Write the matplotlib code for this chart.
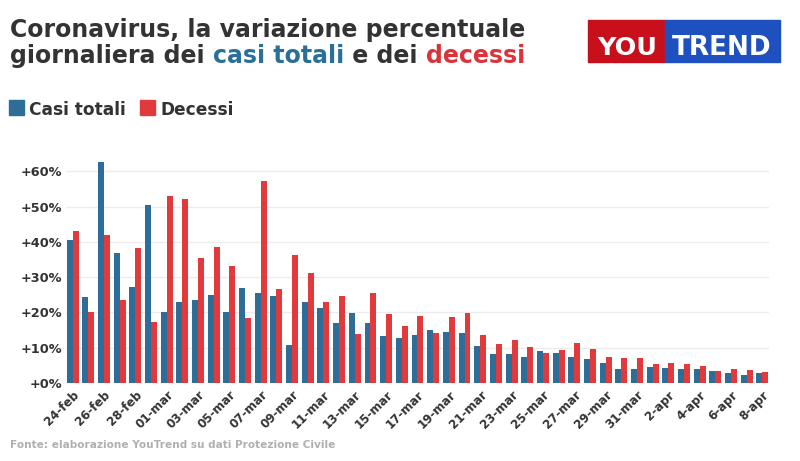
import matplotlib
matplotlib.use("Agg")
import matplotlib.pyplot as plt
from matplotlib import font_manager as fm
from matplotlib.font_manager import FontProperties
from matplotlib.patches import Rectangle
import numpy as np
import os

dates = ["24-feb", "25-feb", "26-feb", "27-feb", "28-feb", "29-feb",
         "01-mar", "02-mar", "03-mar", "04-mar", "05-mar", "06-mar", "07-mar", "08-mar",
         "09-mar", "10-mar", "11-mar", "12-mar", "13-mar", "14-mar", "15-mar", "16-mar",
         "17-mar", "18-mar", "19-mar", "20-mar", "21-mar", "22-mar", "23-mar", "24-mar",
         "25-mar", "26-mar", "27-mar", "28-mar", "29-mar", "30-mar", "31-mar",
         "1-apr", "2-apr", "3-apr", "4-apr", "5-apr", "6-apr", "7-apr", "8-apr"]

casi_totali = [40.7, 24.3, 62.8, 36.8, 27.2, 50.5, 20.2, 23.0, 23.6, 25.0, 20.2, 27.0, 25.5,
               24.6, 10.7, 22.9, 21.4, 17.0, 19.8, 17.1, 13.2, 12.7, 13.5, 14.9, 14.6, 14.1,
               10.4, 8.2, 8.3, 7.5, 9.2, 8.4, 7.5, 6.9, 5.6, 4.1, 4.1, 4.4, 4.3, 4.1, 4.1,
               3.4, 2.8, 2.2, 2.8]

decessi = [43.1, 20.0, 41.9, 23.6, 38.3, 17.3, 53.1, 52.1, 35.6, 38.5, 33.2, 18.3, 57.4,
           26.7, 36.4, 31.2, 23.0, 24.8, 13.9, 25.6, 19.5, 16.1, 19.1, 14.3, 18.6, 19.8,
           13.6, 11.1, 12.3, 10.1, 8.5, 9.5, 11.4, 9.7, 7.5, 7.0, 7.2, 5.5, 5.7, 5.5, 4.7,
           3.4, 4.0, 3.7, 3.2]

yticks = [0, 10, 20, 30, 40, 50, 60]
ytick_labels = ["+0%", "+10%", "+20%", "+30%", "+40%", "+50%", "+60%"]

BLUE = "#2f6d99"
RED = "#e03a3c"
DARK = "#333333"


def find_font(prefs):
    files = {}
    for f in fm.fontManager.ttflist:
        b = os.path.basename(f.fname)
        stem = os.path.splitext(b)[0].lower().replace("-", "").replace("_", "").replace(" ", "")
        files.setdefault(stem, f.fname)
    for p in prefs:
        if p in files:
            return files[p]
    return None


cond_bold = find_font(["notosanssemicondensedbold", "notosanscondensedbold",
                       "notosanssemicondensedsemibold", "notosanscondensedsemibold",
                       "liberationsansnarrowbold", "opensanscondensedbold"])


def FP(size):
    if cond_bold:
        return FontProperties(fname=cond_bold, size=size)
    return FontProperties(family=["DejaVu Sans"], weight="bold", size=size)


fig = plt.figure(figsize=(8, 4.61), dpi=100)
fig.canvas.draw()
R = fig.canvas.get_renderer()


def fit(t, target_px):
    bb = t.get_window_extent(R)
    s = t.get_fontsize()
    t.set_fontsize(s * target_px / bb.width)
    return t


ax = fig.add_axes([66/800, 1-383/461, (769-66)/800, 63*0.007647])

x = np.arange(len(dates))
w = 0.38
ax.bar(x - w/2, casi_totali, width=w, color=BLUE, zorder=3)
ax.bar(x + w/2, decessi, width=w, color=RED, zorder=3)
ax.set_xlim(-0.42, len(dates) - 1 + 0.42)
ax.set_ylim(0, 63)

ax.set_yticks(yticks)
ax.set_yticklabels(ytick_labels, color=DARK, fontproperties=FP(9.3))
ax.yaxis.grid(True, color="#ececec", linewidth=1, zorder=0)
ax.tick_params(axis="y", length=0, pad=3)

ax.set_xticks(x[::2])
ax.set_xticklabels(dates[::2], rotation=45, ha="right", rotation_mode="anchor",
                   color=DARK, fontproperties=FP(8.6))
ax.tick_params(axis="x", length=0, pad=4)
for s in ax.spines.values():
    s.set_visible(False)

# Title
l1 = fig.text(10/800, 1-37/461, "Coronavirus, la variazione percentuale",
              fontproperties=FP(20), color=DARK, ha="left", va="baseline")
fit(l1, 517)
TS = l1.get_fontsize()
t1 = fig.text(10/800, 1-63/461, "giornaliera dei ", fontproperties=FP(TS),
              color=DARK, ha="left", va="baseline")


def nxt(t, s, color):
    bb = t.get_window_extent(R)
    return fig.text(bb.x1/800, 1-63/461, s, fontproperties=FP(TS),
                    color=color, ha="left", va="baseline")


t2 = nxt(t1, "casi totali", "#2a6f97")
t3 = nxt(t2, " e dei ", DARK)
t4 = nxt(t3, "decessi", "#d8343a")

# Legend
fig.patches.append(Rectangle((9/800, 1-115/461), 15/800, 15/461, transform=fig.transFigure,
                             color=BLUE))
lg1 = fig.text(29/800, 1-115/461, "Casi totali", fontproperties=FP(15),
               color=DARK, ha="left", va="baseline")
fit(lg1, 97)
fig.patches.append(Rectangle((140/800, 1-115/461), 15/800, 15/461, transform=fig.transFigure,
                             color=RED))
fig.text(161/800, 1-115/461, "Decessi", fontproperties=FP(lg1.get_fontsize()),
         color=DARK, ha="left", va="baseline")

# Source
src = fig.text(10/800, 1-448/461, "Fonte: elaborazione YouTrend su dati Protezione Civile",
               fontproperties=FP(10), color="#b0b0b0", ha="left", va="baseline")
fit(src, 323)

# Logo
fig.patches.append(Rectangle((588/800, 1-62/461), 77/800, 42/461, transform=fig.transFigure,
                             color="#c8101c"))
fig.patches.append(Rectangle((665/800, 1-62/461), 115/800, 42/461, transform=fig.transFigure,
                             color="#1e50c0"))
y1 = fig.text(627/800, 1-55/461, "YOU", fontproperties=FP(24), color="white",
              ha="center", va="baseline")
fit(y1, 60)
y2 = fig.text(722/800, 1-55/461, "TREND", fontproperties=FP(24), color="white",
              ha="center", va="baseline")
fit(y2, 100)

fig.savefig("out.png", dpi=100)
